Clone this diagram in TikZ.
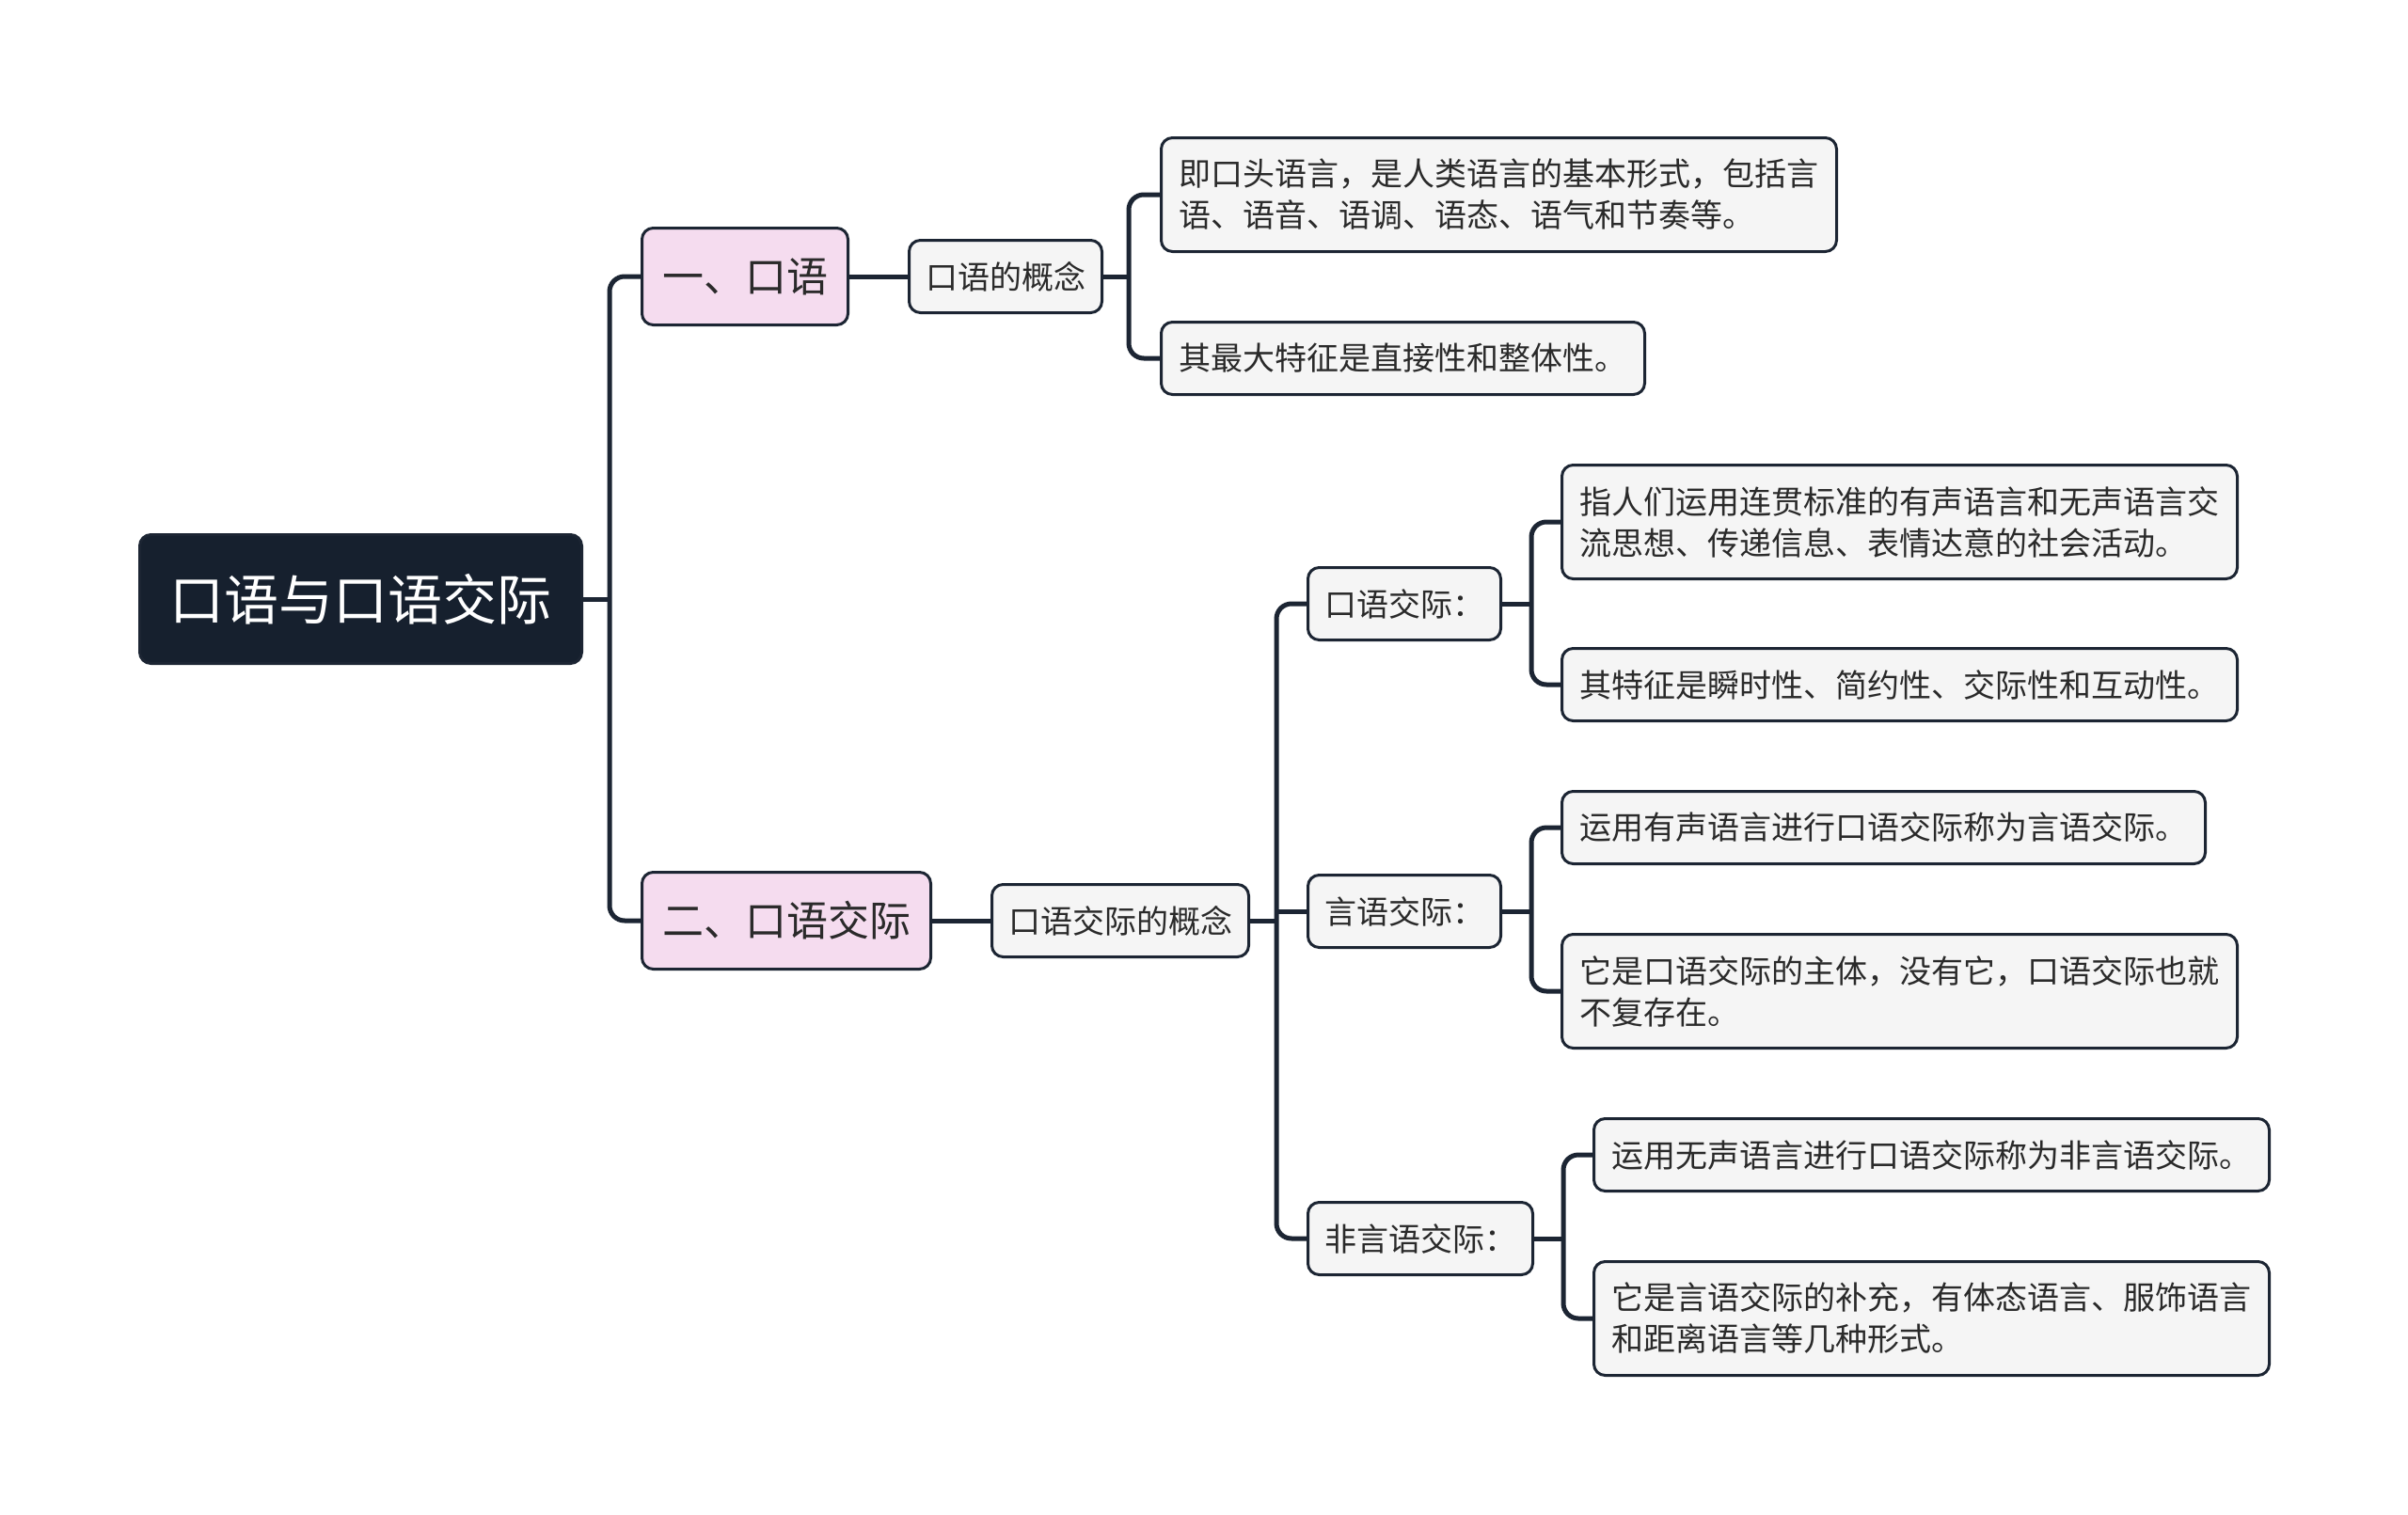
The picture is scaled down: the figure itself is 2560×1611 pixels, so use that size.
\documentclass[tikz,border=0pt]{standalone}
\usepackage{fontspec}
\setmainfont{Noto Sans CJK SC}
\definecolor{linec}{HTML}{1C2533}
\definecolor{rootc}{HTML}{16202E}
\definecolor{pinkc}{HTML}{F5DCEF}
\definecolor{leafc}{HTML}{F5F5F5}
\definecolor{textc}{HTML}{2A2A2A}
\begin{document}
\begin{tikzpicture}[x=1pt,y=-1pt,
  base/.style={draw=linec, line width=3pt, rounded corners=12pt, inner ysep=0pt, align=left, anchor=west, text=textc},
  leaf/.style={base, fill=leafc, inner xsep=19pt, font=\fontsize{34pt}{44pt}\selectfont, minimum height=77pt},
  leafii/.style={leaf, minimum height=121pt},
  sub/.style={leaf, inner xsep=17.5pt},
  topic/.style={base, fill=pinkc, inner xsep=21.5pt, font=\fontsize{44pt}{52pt}\selectfont, minimum height=103pt},
  rootbox/.style={base, fill=rootc, text=white, inner xsep=32pt, font=\fontsize{58pt}{66pt}\selectfont, minimum height=137pt},
  conn/.style={draw=linec, line width=5pt, rounded corners=16pt}
]
\useasboundingbox (0,0) rectangle (2560,1611);

\node[rootbox] (root) at (147,637) {口语与口语交际};

\node[topic] (t1) at (681,294) {一、口语};
\node[topic] (t2) at (681,979) {二、口语交际};

\node[sub] (c1) at (965,294) {口语的概念};
\node[leafii] (l1) at (1233,207) {即口头语言，是人类语言的基本形式，包括言\\语、语音、语调、语态、语气和节奏等。};
\node[leaf] (l2) at (1233,381) {其最大特征是直接性和整体性。};

\node[sub] (c2) at (1053,979) {口语交际的概念};
\node[sub] (s1) at (1389,642) {口语交际：};
\node[sub] (s2) at (1389,969) {言语交际：};
\node[sub] (s3) at (1389,1317) {非言语交际：};

\node[leafii] (l3) at (1659,555) {指人们运用连贯标准的有声语言和无声语言交\\流思想、传递信息、表情达意的社会活动。};
\node[leaf] (l4) at (1659,728) {其特征是瞬时性、简约性、交际性和互动性。};
\node[leaf] (l5) at (1659,880) {运用有声语言进行口语交际称为言语交际。};
\node[leafii] (l6) at (1659,1054) {它是口语交际的主体，没有它，口语交际也就\\不复存在。};
\node[leaf] (l7) at (1693,1228) {运用无声语言进行口语交际称为非言语交际。};
\node[leafii] (l8) at (1693,1402) {它是言语交际的补充，有体态语言、服饰语言\\和距离语言等几种形式。};

% branch points
\coordinate (b0) at (648,637);
\coordinate (b1) at (1200,294);
\coordinate (b2) at (1357,979);
\coordinate (b3) at (1628,642);
\coordinate (b4) at (1628,969);
\coordinate (b5) at (1662,1317);

\draw[conn] (root.east) -- (b0);
\draw[conn] (t1.west) -| (b0) |- (t2.west);

\draw[conn] (t1.east) -- (c1.west);
\draw[conn] (c1.east) -- (b1);
\draw[conn] (l1.west) -| (b1) |- (l2.west);

\draw[conn] (t2.east) -- (c2.west);
\draw[conn] (c2.east) -- (b2);
\draw[conn] (s1.west) -| (b2) |- (s3.west);
\draw[conn] (b2 |- s2.west) -- (s2.west);

\draw[conn] (s1.east) -- (b3);
\draw[conn] (l3.west) -| (b3) |- (l4.west);

\draw[conn] (s2.east) -- (b4);
\draw[conn] (l5.west) -| (b4) |- (l6.west);

\draw[conn] (s3.east) -- (b5);
\draw[conn] (l7.west) -| (b5) |- (l8.west);
\end{tikzpicture}
\end{document}
